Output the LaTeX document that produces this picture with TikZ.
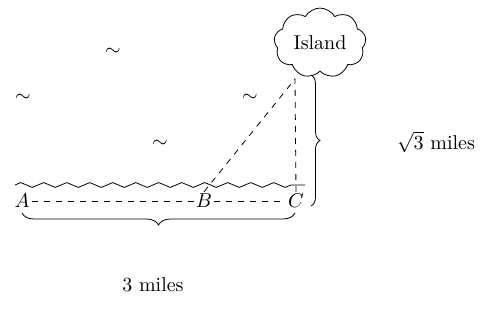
\documentclass[tikz,border=0pt]{standalone}
\usetikzlibrary{decorations.pathreplacing,decorations.pathmorphing,shapes.symbols}
\begin{document}
\begin{tikzpicture}[x=0.5pt,y=0.5pt,
  lbl/.style={inner sep=1pt},
  wave/.style={decorate,decoration={zigzag,segment length=11.5pt,amplitude=1.2pt,post length=4pt}},
  hbrace/.style={decorate,decoration={brace,amplitude=6pt}},
  vbrace/.style={decorate,decoration={brace,amplitude=4.5pt}},
  isle/.style={draw,cloud,cloud puffs=9,cloud puff arc=120,aspect=1.4,minimum width=46pt,minimum height=33pt,inner sep=1pt}]
\useasboundingbox (0,0) rectangle (492,-321);
% sea surface
\coordinate (w1) at (15,-185);
\coordinate (w2) at (305,-185);
\draw[wave] (w1) -- (w2);
% island
\node[isle] (island) at (320,-43) {Island};
\coordinate (top) at (295,-79);
% points
\node[lbl] (A) at (22,-201) {$A$};
\node[lbl] (B) at (204,-201) {$B$};
\node[lbl] (C) at (296,-201) {$C$};
\draw[dashed] (A) -- (B) -- (C);
\draw[dashed] (B.north) -- (top);
\draw[dashed] (C.north) -- (top);
% braces
\coordinate (hb1) at (295,-213);
\coordinate (hb2) at (22,-213);
\draw[hbrace] (hb1) -- (hb2);
\coordinate (vb1) at (311,-75);
\coordinate (vb2) at (311,-206);
\draw[vbrace] (vb1) -- (vb2);
\node (l3) at (153,-285) {3 miles};
\node (ls3) at (436,-142) {$\sqrt{3}$ miles};
% waves
\node (t1) at (113,-52) {$\sim$};
\node (t2) at (23,-98) {$\sim$};
\node (t3) at (250,-98) {$\sim$};
\node (t4) at (160,-144) {$\sim$};
\end{tikzpicture}
\end{document}
